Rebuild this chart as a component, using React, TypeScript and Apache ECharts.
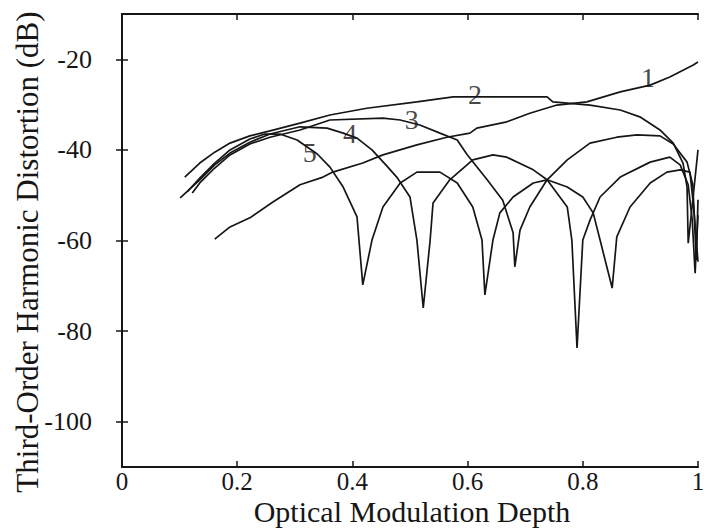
import React, { useEffect, useRef } from "react";
import * as echarts from "echarts";

// Tick values
const xTickValues = [0, 0.2, 0.4, 0.6, 0.8, 1];
const yTickValues = [-100, -80, -60, -40, -20];

// Curve 1
const curve1Depth = [0.161, 0.1875, 0.222, 0.262, 0.309, 0.349, 0.366, 0.418, 0.453, 0.512, 0.564, 0.604, 0.616, 0.668, 0.708, 0.755, 0.807, 0.865, 0.917, 0.951, 0.991, 1.0];
const curve1DB = [-59.7, -57.0, -55.0, -51.5, -47.7, -46.0, -44.9, -42.9, -41.1, -38.9, -37.2, -36.3, -35.2, -33.8, -31.9, -30.1, -29.4, -27.2, -25.7, -23.9, -21.3, -20.6];

// Curve 2
const curve2Depth = [0.109, 0.135, 0.161, 0.1875, 0.222, 0.257, 0.309, 0.361, 0.425, 0.512, 0.575, 0.738, 0.748, 0.8125, 0.865, 0.899, 0.934, 0.957, 0.974, 0.981, 0.983, 0.991, 1.0];
const curve2DB = [-46.0, -42.9, -40.5, -38.5, -36.9, -35.8, -34.1, -32.3, -30.8, -29.4, -28.3, -28.3, -29.4, -30.1, -31.2, -32.7, -35.6, -38.5, -42.9, -48.2, -60.6, -51.0, -40.0];

// Curve 3
const curve3Depth = [0.122, 0.135, 0.161, 0.1875, 0.222, 0.257, 0.309, 0.361, 0.453, 0.483, 0.517, 0.552, 0.582, 0.599, 0.634, 0.661, 0.679, 0.682, 0.691, 0.708, 0.738, 0.773, 0.8125, 0.859, 0.894, 0.934, 0.957, 0.981, 0.991, 0.997, 1.0];
const curve3DB = [-49.5, -47.3, -44.0, -41.1, -38.7, -37.2, -35.6, -33.4, -33.0, -33.4, -34.5, -36.3, -37.8, -41.0, -46.6, -51.1, -58.3, -65.8, -57.7, -52.6, -46.6, -42.2, -38.5, -37.2, -36.7, -36.9, -38.7, -42.7, -47.7, -64.3, -51.0];

// Curve 4
const curve4Depth = [0.101, 0.135, 0.161, 0.1875, 0.222, 0.257, 0.309, 0.356, 0.384, 0.408, 0.434, 0.458, 0.477, 0.5, 0.512, 0.523, 0.535, 0.54, 0.569, 0.609, 0.644, 0.668, 0.714, 0.738, 0.773, 0.781, 0.79, 0.8, 0.8125, 0.83, 0.865, 0.917, 0.951, 0.969, 0.983, 0.99, 0.995, 1.0];
const curve4DB = [-50.6, -46.6, -43.3, -40.7, -38.3, -36.5, -34.9, -35.2, -36.3, -37.4, -40.0, -43.3, -46.0, -50.4, -59.9, -74.9, -59.9, -51.7, -46.6, -42.2, -41.1, -41.6, -44.4, -46.6, -52.6, -59.9, -83.7, -59.9, -55.5, -50.4, -46.0, -42.7, -41.6, -43.3, -47.7, -55.5, -67.2, -54.4];

// Curve 5
const curve5Depth = [0.113, 0.135, 0.161, 0.1875, 0.222, 0.248, 0.274, 0.304, 0.339, 0.361, 0.384, 0.408, 0.418, 0.434, 0.453, 0.483, 0.512, 0.552, 0.582, 0.609, 0.625, 0.63, 0.644, 0.656, 0.679, 0.714, 0.738, 0.773, 0.8, 0.818, 0.83, 0.851, 0.859, 0.882, 0.917, 0.946, 0.969, 0.986, 0.993, 1.0];
const curve5DB = [-49.3, -46.2, -42.9, -40.0, -37.6, -36.5, -36.5, -37.8, -40.9, -43.8, -48.2, -54.8, -69.8, -59.9, -52.6, -47.3, -44.9, -44.9, -47.3, -52.6, -59.9, -72.0, -59.9, -53.9, -50.4, -47.3, -46.6, -48.2, -50.4, -53.9, -59.9, -70.5, -59.2, -52.6, -47.3, -44.9, -44.4, -44.9, -53.3, -64.7];

// Curve labels (anchors in data space)
const labelTexts = ["1", "2", "3", "4", "5"];
const labelDepth = [0.913, 0.613, 0.503, 0.396, 0.326];
const labelDB = [-24.1, -27.7, -33.2, -36.3, -40.5];

const xTitle = "Optical Modulation Depth";
const yTitle = "Third-Order Harmonic Distortion (dB)";

const zip = (a: number[], b: number[]) => a.map((v, i) => [v, b[i]]);

const FONT = '"Liberation Serif", "DejaVu Serif", serif';
const INK = "#161616";

export default function App() {
  const ref = useRef<HTMLDivElement>(null);
  useEffect(() => {
    if (!ref.current) return;
    const chart = echarts.init(ref.current, undefined, { renderer: "svg" });
    const curves = [
      zip(curve1Depth, curve1DB),
      zip(curve2Depth, curve2DB),
      zip(curve3Depth, curve3DB),
      zip(curve4Depth, curve4DB),
      zip(curve5Depth, curve5DB),
    ];
    const lineSeries = curves.map((data, i) => ({
      type: "line",
      name: "curve " + (i + 1),
      data,
      showSymbol: false,
      symbol: "none",
      lineStyle: { color: INK, width: 1.7 },
      z: 2,
    }));
    const labelSeries = {
      type: "scatter",
      name: "labels",
      symbolSize: 0,
      data: labelTexts.map((t, i) => ({ value: [labelDepth[i], labelDB[i]], name: t })),
      label: {
        show: true,
        position: "inside",
        formatter: (p: any) => p.name,
        fontFamily: FONT,
        fontSize: 28,
        color: INK,
      },
      z: 3,
    };
    chart.setOption({
      animation: false,
      backgroundColor: "#ffffff",
      grid: {
        left: 122,
        right: 6,
        top: 14,
        bottom: 62,
        show: false,
        containLabel: false,
        outerBoundsMode: "none",
      },
      graphic: [
        {
          type: "text",
          x: 27,
          y: 252,
          rotation: Math.PI / 2,
          style: {
            text: yTitle,
            fontFamily: FONT,
            fontSize: 31,
            fill: INK,
            align: "center",
            verticalAlign: "middle",
          },
        },
        {
          type: "text",
          x: 412,
          y: 511,
          style: {
            text: xTitle,
            fontFamily: FONT,
            fontSize: 30,
            fill: INK,
            align: "center",
            verticalAlign: "middle",
          },
        },
      ],
      xAxis: [
        {
          type: "value",
          position: "bottom",
          min: 0,
          max: 1,
          interval: 0.2,
          axisLine: { show: true, lineStyle: { color: INK, width: 2 } },
          axisTick: { show: true, inside: true, length: 6, lineStyle: { color: INK, width: 1.5 } },
          axisLabel: {
            fontFamily: FONT,
            fontSize: 25,
            color: INK,
            margin: 2,
            customValues: xTickValues,
          },
          splitLine: { show: false },
        },
        {
          type: "value",
          position: "top",
          min: 0,
          max: 1,
          interval: 0.2,
          axisLine: { show: true, lineStyle: { color: INK, width: 2 } },
          axisTick: { show: true, inside: true, length: 6, lineStyle: { color: INK, width: 1.5 } },
          axisLabel: { show: false },
          splitLine: { show: false },
        },
      ],
      yAxis: [
        {
          type: "value",
          position: "left",
          min: -110,
          max: -10,
          axisLine: { show: true, lineStyle: { color: INK, width: 2 } },
          axisTick: {
            show: true,
            inside: true,
            length: 6,
            customValues: yTickValues,
            lineStyle: { color: INK, width: 1.5 },
          },
          axisLabel: {
            fontFamily: FONT,
            fontSize: 26,
            color: INK,
            margin: 30,
            customValues: yTickValues,
          },
          splitLine: { show: false },
        },
        {
          type: "value",
          position: "right",
          min: -110,
          max: -10,
          axisLine: { show: true, lineStyle: { color: INK, width: 2 } },
          axisTick: {
            show: true,
            inside: true,
            length: 6,
            customValues: yTickValues,
            lineStyle: { color: INK, width: 1.5 },
          },
          axisLabel: { show: false },
          splitLine: { show: false },
        },
      ],
      series: [...lineSeries, labelSeries],
    });
    return () => chart.dispose();
  }, []);
  return (
    <div
      ref={ref}
      style={{ position: "fixed", left: 0, top: 0, width: 704, height: 529, background: "#fff" }}
    />
  );
}
